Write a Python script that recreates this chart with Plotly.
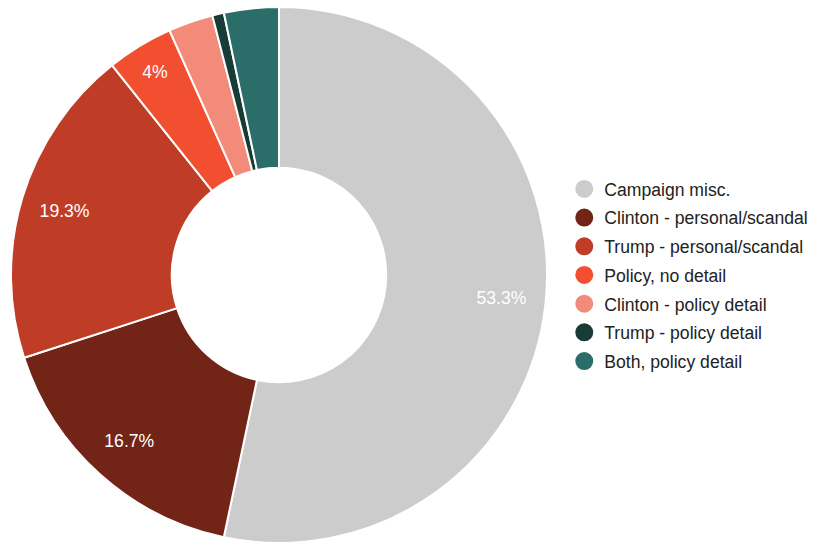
import plotly.graph_objects as go

labels = ["Campaign misc.", "Clinton - personal/scandal", "Trump - personal/scandal",
          "Policy, no detail", "Clinton - policy detail", "Trump - policy detail",
          "Both, policy detail"]
values = [53.3, 16.7, 19.3, 4.0, 2.7, 0.7, 3.3]
colors = ["#cccccc", "#722416", "#bf3d27", "#f24e30", "#f28b7a", "#173b35", "#2b6d69"]
show_text = [True, True, True, True, False, False, False]

FONT = "Liberation Sans, Arial, sans-serif"
DOMAIN = dict(x=[0, 0.6675], y=[0, 1])

fig = go.Figure()
# donut slices
fig.add_trace(go.Pie(
    labels=labels, values=values, sort=False, direction="clockwise", rotation=0,
    hole=0.4, marker=dict(colors=colors, line=dict(color="white", width=2)),
    textinfo="none", showlegend=False, domain=DOMAIN,
    hoverinfo="label+percent",
))
# percentage labels (transparent overlay ring so labels sit near outer edge)
fig.add_trace(go.Pie(
    labels=labels, values=values, sort=False, direction="clockwise", rotation=0,
    hole=0.67, marker=dict(colors=["rgba(0,0,0,0)"] * len(values), line=dict(width=0)),
    texttemplate=["%{percent}" if s else "" for s in show_text],
    textposition="inside", insidetextorientation="horizontal",
    insidetextfont=dict(color="white", size=17.6, family=FONT),
    showlegend=False, domain=DOMAIN, hoverinfo="skip",
))
for lab, col in zip(labels, colors):
    fig.add_trace(go.Scatter(
        x=[None], y=[None], mode="markers", name=lab, legendgroup=lab,
        marker=dict(symbol="circle", size=16, color=col, line=dict(color=col, width=2)),
    ))

fig.update_layout(
    width=814, height=544,
    margin=dict(l=11, r=0, t=7, b=1, autoexpand=False),
    paper_bgcolor="white", plot_bgcolor="white",
    font=dict(family=FONT, size=17.6, color="#222222"),
    xaxis=dict(visible=False), yaxis=dict(visible=False),
    legend=dict(x=0.689, y=0.5, xanchor="left", yanchor="middle",
                tracegroupgap=2.8, itemclick=False, itemdoubleclick=False,
                bgcolor="rgba(0,0,0,0)",
                font=dict(size=17.6, color="#222222")),
)
fig.write_html("out.html")
